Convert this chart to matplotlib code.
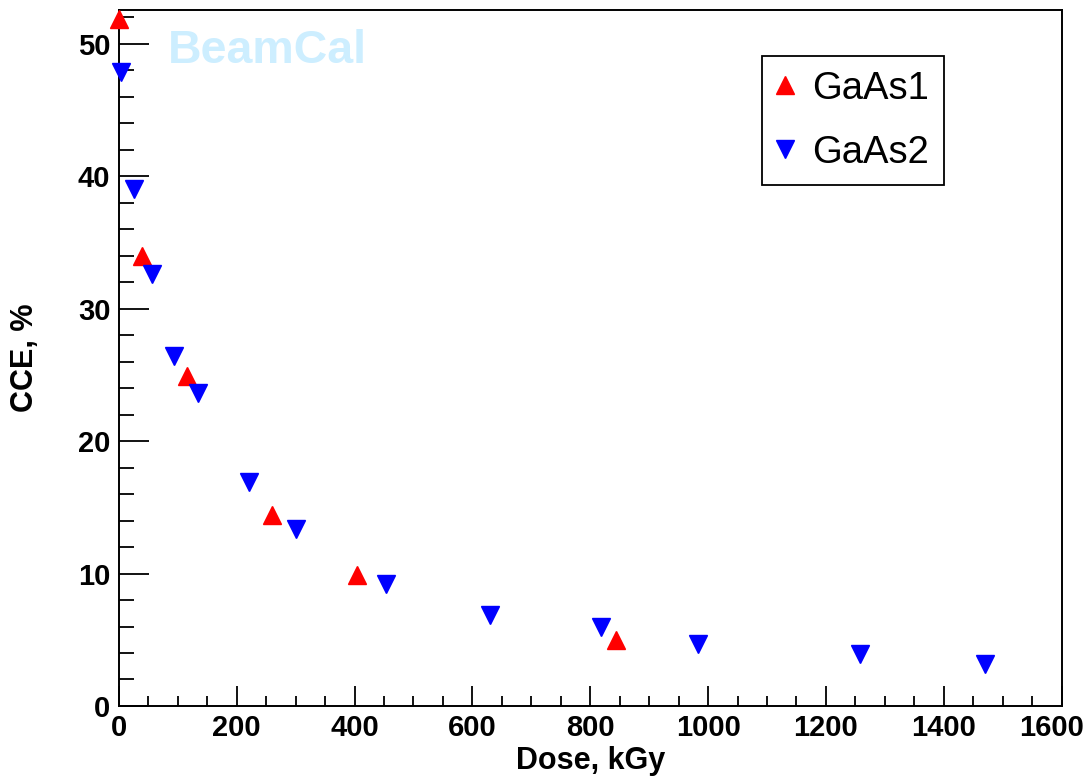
import matplotlib.pyplot as plt
from matplotlib.ticker import MultipleLocator
from matplotlib.transforms import ScaledTranslation

# GaAs1 (red, up triangles)
dose1 = [0, 40, 115, 260, 405, 843]
cce1 = [51.9, 34.0, 24.9, 14.4, 9.9, 5.0]

# GaAs2 (blue, down triangles)
dose2 = [3, 25, 56, 94, 135, 221, 300, 453, 630, 818, 983, 1258, 1470]
cce2 = [47.9, 39.0, 32.6, 26.4, 23.6, 16.9, 13.4, 9.2, 6.9, 6.0, 4.7, 3.9, 3.2]

xticks = [0, 200, 400, 600, 800, 1000, 1200, 1400, 1600]
yticks = [0, 10, 20, 30, 40, 50]

plt.rcParams["font.family"] = ["Liberation Sans", "DejaVu Sans"]

fig = plt.figure(figsize=(10.9, 7.77), dpi=100)
ax = fig.add_axes([0.109, 0.0914, 0.865, 0.896])

ax.plot(dose1, cce1, linestyle="none", marker="^", color="#ff0000",
        markersize=13, label="GaAs1", clip_on=False, zorder=3)
ax.plot(dose2, cce2, linestyle="none", marker="v", color="#0000ff",
        markersize=13, label="GaAs2", clip_on=False, zorder=3)

ax.set_xlim(0, 1600)
ax.set_ylim(0, 52.57)

ax.set_xticks(xticks)
ax.set_yticks(yticks)
ax.xaxis.set_minor_locator(MultipleLocator(50))
ax.yaxis.set_minor_locator(MultipleLocator(2))

ax.tick_params(axis="x", which="major", direction="in", length=14.4, width=1.3, pad=6)
ax.tick_params(axis="x", which="minor", direction="in", length=7.2, width=1.3)
ax.tick_params(axis="y", which="major", direction="in", length=21.6, width=1.3, pad=6)
ax.tick_params(axis="y", which="minor", direction="in", length=10.8, width=1.3)
ax.tick_params(labelsize=21)
for lab in ax.get_xticklabels() + ax.get_yticklabels():
    lab.set_fontweight("bold")

# keep the last x label inside the figure
last = ax.xaxis.get_major_ticks()[-1].label1
last.set_transform(last.get_transform() + ScaledTranslation(-7 / 72, 0, fig.dpi_scale_trans))

for sp in ax.spines.values():
    sp.set_linewidth(1.4)

ax.set_xlabel("Dose, kGy", fontsize=22, fontweight="bold")
ax.set_ylabel("CCE, %", fontsize=22, fontweight="bold")
ax.xaxis.set_label_coords(0.5, -0.058)
ax.yaxis.set_label_coords(-0.084, 0.5)

ax.text(0.052, 0.924, "BeamCal", transform=ax.transAxes, fontsize=33.5,
        fontweight="bold", color="#cdeeff", ha="left", va="baseline")

leg = ax.legend(loc="upper left", bbox_to_anchor=(0.682, 0.934), fontsize=27.5,
                frameon=True, fancybox=False, edgecolor="black", framealpha=1,
                handlelength=0.42, handletextpad=0.5, labelspacing=0.73,
                borderpad=0.39, borderaxespad=0, markerscale=0.95)
leg.get_frame().set_linewidth(1.3)

fig.savefig("out.png", dpi=100)
